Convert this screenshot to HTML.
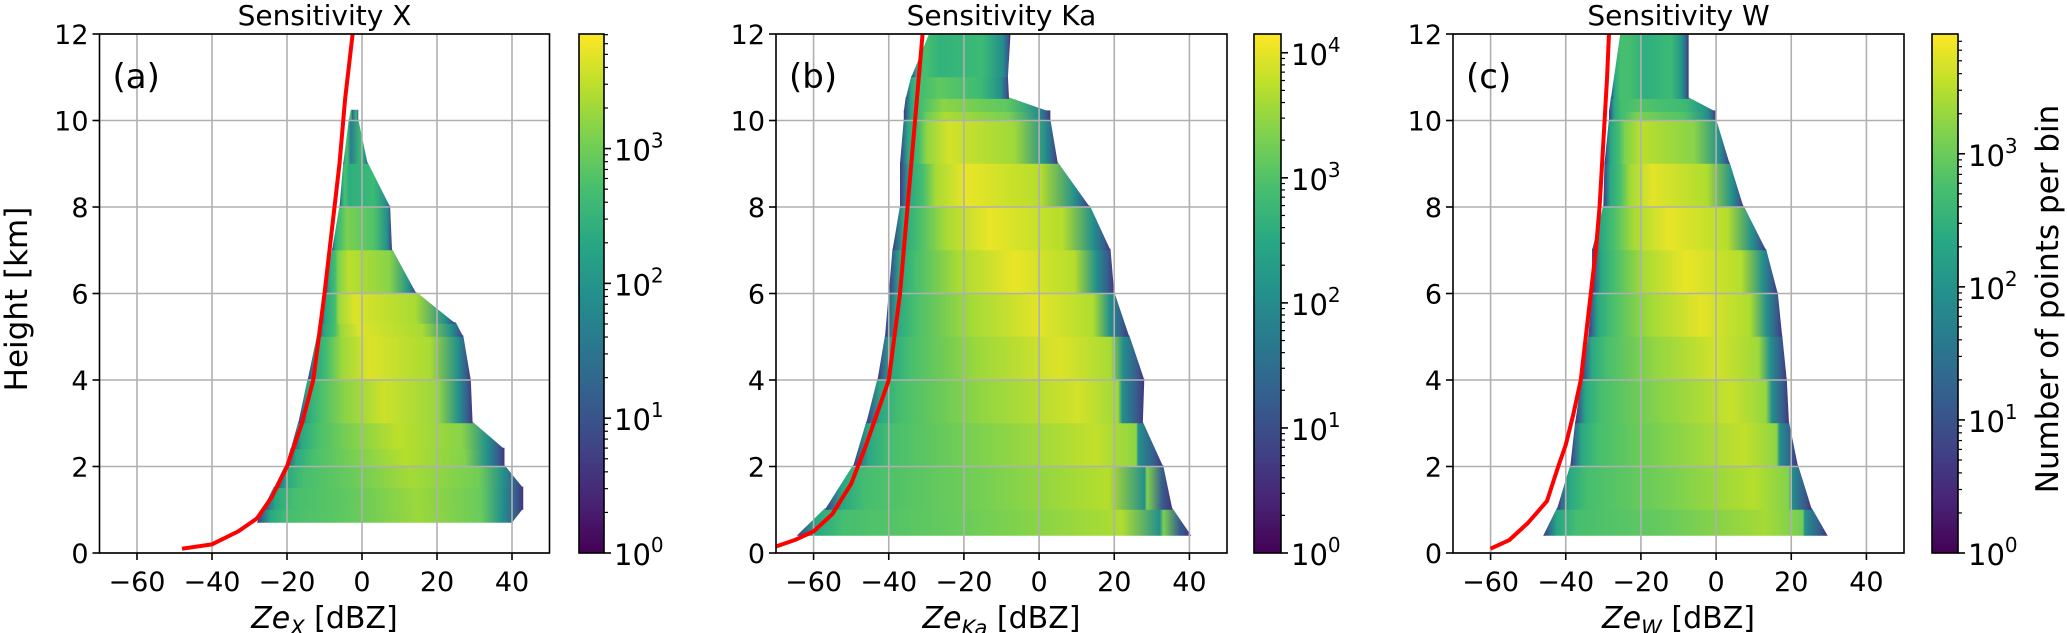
<!DOCTYPE html>
<html><head><meta charset="utf-8">
<style>
body{margin:0;background:#fff;}
svg{display:block;font-family:"DejaVu Sans","Liberation Sans",sans-serif;}
</style></head>
<body>
<svg id="fig" width="2067" height="633" viewBox="0 0 2067 633" xmlns="http://www.w3.org/2000/svg">
<defs id="defs"></defs>
</svg>
<script>
// ---- Panel (a) Sensitivity X ----
const aHeights = [0.7, 1.0, 1.5, 2.0, 2.4, 3.0, 4.0, 5.0, 5.3, 6.0, 7.0, 8.0, 9.0, 10.0, 10.25];
const aLeft    = [-28, -26.5, -23.5, -20.5, -19, -17, -14.5, -12, -11.5, -10, -8, -6, -5, -3.5, -3];
const aRight   = [40, 43, 43, 38, 38, 29.5, 29, 27, 25, 14.5, 8, 7.5, 1.5, -1, -1];
const aPeak    = [15, 15, 14, 12, 11, 8, 4, 0, -1, -3, -4, -4, -3, -3, -2];
const aLevel   = [0.85, 0.85, 0.85, 0.88, 0.9, 0.9, 0.95, 0.95, 0.95, 0.95, 0.85, 0.75, 0.5, 0.35, 0.25];
const aCurveZe = [-48, -40, -33, -28, -24, -20, -16, -13, -10, -8, -6, -4.5, -2.5];
const aCurveH  = [0.1, 0.2, 0.5, 0.8, 1.3, 2, 3, 4, 6, 7.5, 9, 10.5, 12];
const aCbarTicks = [0, 1, 2, 3];
const aCbarMax = 3.85;
// ---- Panel (b) Sensitivity Ka ----
const bHeights = [0.4, 1, 2, 3, 4, 5, 6, 7, 8, 9, 10, 10.2, 10.5, 11, 12];
const bLeft    = [-64.5, -57, -49.5, -46, -43, -41, -40, -39, -37, -37, -36, -36, -35.5, -34, -29.3];
const bRight   = [40.5, 35.5, 33, 27.6, 28, 24, 20, 19, 13.5, 5, 3, 3, -8, -8.3, -7.6];
const bPeak    = [24, 20, 17, 13, 8, 3, -3, -10, -16, -23, -25, -25, -26, -27, -26];
const bLevel   = [0.88, 0.88, 0.9, 0.92, 0.95, 0.95, 0.97, 0.97, 0.97, 0.97, 0.9, 0.85, 0.8, 0.7, 0.6];
const bCurveZe = [-70, -65, -60, -55, -50, -46, -42, -40, -37, -35, -33, -31];
const bCurveH  = [0.15, 0.3, 0.5, 0.9, 1.6, 2.5, 3.5, 4, 6, 8, 10, 12];
const bCbarTicks = [0, 1, 2, 3, 4];
const bCbarMax = 4.15;
// ---- Panel (c) Sensitivity W ----
const cHeights = [0.4, 1, 2, 3, 4, 5, 6, 7, 8, 9, 10, 10.2, 10.5, 12];
const cLeft    = [-46, -42.4, -38.8, -37.5, -35.8, -34, -33, -33, -30, -29.7, -28.5, -28.5, -28, -25.5];
const cRight   = [29.7, 25.5, 21.8, 19.4, 18.8, 17.6, 16.4, 13.3, 7.3, 3.6, 0, 0, -7.3, -7.3];
const cPeak    = [15, 11, 9, 6, 2, -2, -6, -10, -15, -19, -21, -21, -20, -18];
const cLevel   = [0.85, 0.88, 0.9, 0.92, 0.92, 0.95, 0.97, 0.97, 0.97, 0.95, 0.85, 0.75, 0.7, 0.55];
const cCurveZe = [-60, -55, -50, -45, -42, -40, -38, -36, -34, -32, -31, -30, -29, -28.5];
const cCurveH  = [0.1, 0.3, 0.7, 1.2, 2, 2.5, 3.2, 4, 5.5, 7, 8, 9.5, 11, 12];
const cCbarTicks = [0, 1, 2, 3];
const cCbarMax = 3.9;

const xTicks = [-60, -40, -20, 0, 20, 40];
const yTicks = [0, 2, 4, 6, 8, 10, 12];

const NS = "http://www.w3.org/2000/svg";
const svg = document.getElementById('fig');
const defs = document.getElementById('defs');
function mk(tag, attrs, parent){
  const e = document.createElementNS(NS, tag);
  for (const k in attrs) e.setAttribute(k, attrs[k]);
  (parent || svg).appendChild(e);
  return e;
}
const VIR = [[68,1,84],[72,40,120],[62,74,137],[49,104,142],[38,130,142],[31,158,137],[53,183,121],[109,205,89],[180,222,44],[253,231,37]];
function viridis(t){
  t = Math.max(0, Math.min(1, t));
  const p = t * (VIR.length - 1), i = Math.min(VIR.length - 2, Math.floor(p)), f = p - i;
  const c = VIR[i].map((v, k) => Math.round(v + (VIR[i+1][k] - v) * f));
  return `rgb(${c[0]},${c[1]},${c[2]})`;
}
let gid = 0;

function panel(cfg){
  const {x0, x1, y0, y1, cb0, cb1} = cfg;
  const W = x1 - x0, H = y1 - y0;
  const xs = v => x0 + (v + 70) / 120 * W;
  const ys = h => y1 - h / 12 * H;
  const g = mk('g', {});
  
  
  const clipId = 'clip' + cfg.name;
  const cp = mk('clipPath', {id: clipId}, defs);
  mk('rect', {x: x0, y: y0, width: W, height: H}, cp);
  const hist = mk('g', {'clip-path': `url(#${clipId})`}, g);
  
  
  const hs = cfg.heights;
  for (let i = 0; i < hs.length - 1; i++){
    const L0 = xs(cfg.left[i]), L1 = xs(cfg.left[i+1]);
    const R0 = xs(cfg.right[i]), R1 = xs(cfg.right[i+1]);
    const lo = Math.min(L0, L1), hi = Math.max(R0, R1);
    const pk = xs((cfg.peak[i] + cfg.peak[i+1]) / 2);
    const lv = (cfg.level[i] + cfg.level[i+1]) / 2;
    const fr = Math.max(0.05, Math.min(0.95, (pk - lo) / Math.max(1, hi - lo)));
    const id = 'gr' + (gid++);
    const lg = mk('linearGradient', {id, gradientUnits: 'userSpaceOnUse', x1: lo, y1: 0, x2: hi, y2: 0}, defs);
    const stops = [[0, 0.15], [0.015, 0.3], [0.05, 0.6], [0.12, 0.7], [fr * 0.55, Math.max(0.7, lv - 0.1)], [fr, lv],
                   [fr + (1 - fr) * 0.6, Math.max(0.68, lv - 0.08)], [0.92, 0.5], [0.97, 0.3], [1, 0.15]];
    stops.sort((a, b) => a[0] - b[0]).forEach(s => mk('stop', {offset: s[0], 'stop-color': viridis(s[1])}, lg));
    const top = i === hs.length - 2 ? ys(hs[i+1]) : ys(hs[i+1]) - 1.5;
    const poly = mk('polygon', {points: `${L0},${ys(hs[i])} ${R0},${ys(hs[i])} ${R1},${top} ${L1},${top}`, fill: `url(#${id})`}, hist);
    
    
  }
  // grid
  xTicks.forEach(t => {
    const l = mk('line', {x1: xs(t), x2: xs(t), y1: y0, y2: y1, stroke: '#b0b0b0', 'stroke-width': 1.6}, g);
    
    
  });
  yTicks.forEach(t => {
    const l = mk('line', {x1: x0, x2: x1, y1: ys(t), y2: ys(t), stroke: '#b0b0b0', 'stroke-width': 1.6}, g);
    
    
  });
  // red sensitivity curve
  const pts = cfg.curveZe.map((z, i) => `${xs(z)},${ys(cfg.curveH[i])}`).join(' ');
  const cur = mk('polyline', {points: pts, fill: 'none', stroke: '#ff0000', 'stroke-width': 4, 'stroke-linejoin': 'round', 'clip-path': `url(#${clipId})`}, g);
  
  
  // frame
  const fr = mk('rect', {x: x0, y: y0, width: W, height: H, fill: 'none', stroke: '#000', 'stroke-width': 1.6}, g);
  
  
  // ticks
  xTicks.forEach(t => {
    mk('line', {x1: xs(t), x2: xs(t), y1: y1, y2: y1 + 7, stroke: '#000', 'stroke-width': 1.6}, g);
    const tx = mk('text', {x: xs(t), y: y1 + 38, 'font-size': 27, 'text-anchor': 'middle'}, g);
    tx.textContent = (t < 0 ? '\u2212' + (-t) : t);
    
    
  });
  yTicks.forEach(t => {
    mk('line', {x1: x0 - 7, x2: x0, y1: ys(t), y2: ys(t), stroke: '#000', 'stroke-width': 1.6}, g);
    const tx = mk('text', {x: x0 - 11, y: ys(t) + 10, 'font-size': 27, 'text-anchor': 'end'}, g);
    tx.textContent = t;
    
    
  });
  // title
  const ti = mk('text', {x: (x0 + x1) / 2, y: 25, 'font-size': 28, 'text-anchor': 'middle'}, g);
  ti.textContent = cfg.title;
  
  
  const pl = mk('text', {x: x0 + 13, y: y0 + 54, 'font-size': 34}, g);
  pl.textContent = cfg.letter;
  
  
  // x label
  const xl = mk('text', {x: (x0 + x1) / 2, y: 628, 'font-size': 30, 'text-anchor': 'middle'}, g);
  xl.innerHTML = `<tspan font-style="italic">Ze</tspan><tspan font-style="italic" font-size="21" dy="7">${cfg.sub}</tspan><tspan dy="-7"> [dBZ]</tspan>`;
  
  
  // colorbar
  const cid = 'cb' + cfg.name;
  const cg = mk('linearGradient', {id: cid, x1: 0, y1: 1, x2: 0, y2: 0}, defs);
  for (let k = 0; k <= 10; k++) mk('stop', {offset: k / 10, 'stop-color': viridis(k / 10)}, cg);
  const cb = mk('rect', {x: cb0, y: y0, width: cb1 - cb0, height: H, fill: `url(#${cid})`, stroke: '#000', 'stroke-width': 1.6}, g);
  
  
  const cy = d => y1 - d / cfg.cbMax * H;
  for (let d = 0; d < Math.ceil(cfg.cbMax); d++){
    for (let m = 2; m <= 9; m++){
      const v = d + Math.log10(m);
      if (v > cfg.cbMax) break;
      mk('line', {x1: cb1, x2: cb1 + 4, y1: cy(v), y2: cy(v), stroke: '#000', 'stroke-width': 1.2}, g);
    }
  }
  cfg.cbTicks.forEach(d => {
    mk('line', {x1: cb1, x2: cb1 + 7, y1: cy(d), y2: cy(d), stroke: '#000', 'stroke-width': 1.6}, g);
    const tx = mk('text', {x: cb1 + 10, y: cy(d) + 12, 'font-size': 29}, g);
    tx.innerHTML = `10<tspan font-size="20" dy="-13">${d}</tspan>`;
    
    
  });
}

panel({name: 'a', x0: 99.5, x1: 549.5, y0: 34, y1: 553, cb0: 579, cb1: 604, title: 'Sensitivity X', letter: '(a)', sub: 'X',
  heights: aHeights, left: aLeft, right: aRight, peak: aPeak, level: aLevel, curveZe: aCurveZe, curveH: aCurveH, cbTicks: aCbarTicks, cbMax: aCbarMax});
panel({name: 'b', x0: 776, x1: 1227, y0: 34, y1: 553, cb0: 1254, cb1: 1281, title: 'Sensitivity Ka', letter: '(b)', sub: 'Ka',
  heights: bHeights, left: bLeft, right: bRight, peak: bPeak, level: bLevel, curveZe: bCurveZe, curveH: bCurveH, cbTicks: bCbarTicks, cbMax: bCbarMax});
panel({name: 'c', x0: 1453, x1: 1904, y0: 34, y1: 553, cb0: 1932, cb1: 1958, title: 'Sensitivity W', letter: '(c)', sub: 'W',
  heights: cHeights, left: cLeft, right: cRight, peak: cPeak, level: cLevel, curveZe: cCurveZe, curveH: cCurveH, cbTicks: cCbarTicks, cbMax: cCbarMax});

const yl = mk('text', {x: 0, y: 0, 'font-size': 31, 'text-anchor': 'middle', transform: 'translate(27,299) rotate(-90)'});
yl.textContent = 'Height [km]';


const cl = mk('text', {x: 0, y: 0, 'font-size': 31, 'text-anchor': 'middle', transform: 'translate(2058,299) rotate(-90)'});
cl.textContent = 'Number of points per bin';


</script>
</body></html>
